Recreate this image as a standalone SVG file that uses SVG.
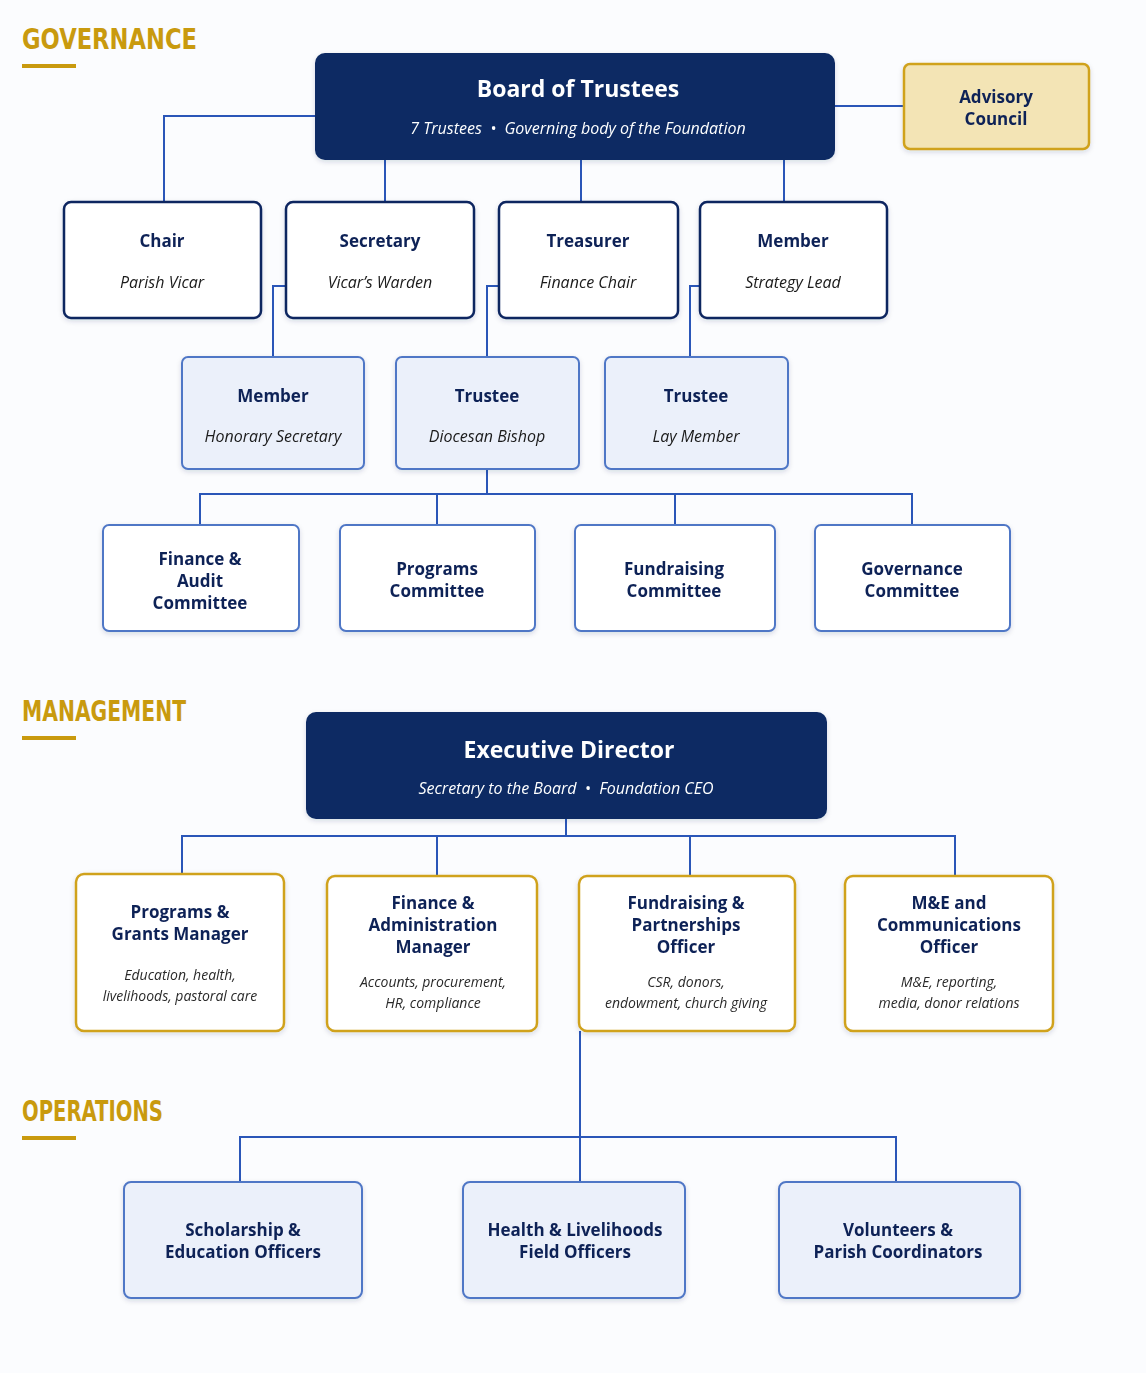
<svg xmlns="http://www.w3.org/2000/svg" width="1146" height="1373" viewBox="0 0 1146 1373">
<defs>
<filter id="sh" x="-10%" y="-10%" width="120%" height="130%">
<feDropShadow dx="0" dy="2" stdDeviation="2.5" flood-color="#1a2a55" flood-opacity="0.15"/>
</filter>
<style>
.sec{font-family:"DejaVu Sans Condensed","DejaVu Sans",sans-serif;font-stretch:condensed;font-weight:bold;font-size:28px;fill:#C99A0E}
.bar{fill:#C99A0E}
.dark{fill:#0B2A63}
.hT{font-family:"Open Sans","Noto Sans",sans-serif;font-weight:bold;font-size:23px;fill:#fff;text-anchor:middle}
.hS{font-family:"Open Sans","Noto Sans",sans-serif;font-style:italic;font-size:16px;fill:#fff;text-anchor:middle;white-space:pre}
.l2{fill:#fff;stroke:#0E2560;stroke-width:2.5}
.l3{fill:#EBF0FA;stroke:#5077C6;stroke-width:2}
.cm{fill:#fff;stroke:#5077C6;stroke-width:2}
.mg{fill:#fff;stroke:#D0A21F;stroke-width:2.5}
.adv{fill:#F3E4B5;stroke:#D0A21F;stroke-width:2.5}
.t{font-family:"Open Sans","Noto Sans",sans-serif;font-weight:bold;font-size:17px;fill:#0F2257;text-anchor:middle}
.s{font-family:"Open Sans","Noto Sans",sans-serif;font-style:italic;font-size:16px;fill:#1a1a1a;text-anchor:middle}
.ss{font-family:"Open Sans","Noto Sans",sans-serif;font-style:italic;font-size:14px;fill:#2a2a2a;text-anchor:middle}
.c{fill:none;stroke:#2A56B8;stroke-width:2}
</style>
</defs>
<rect width="1146" height="1373" fill="#FBFCFE"/>

<g id="sections">
<text class="sec" x="22" y="49" textLength="175" lengthAdjust="spacingAndGlyphs">GOVERNANCE</text>
<rect class="bar" x="22" y="64" width="54" height="4"/>
<text class="sec" x="22" y="721" textLength="164" lengthAdjust="spacingAndGlyphs">MANAGEMENT</text>
<rect class="bar" x="22" y="736" width="54" height="4"/>
<text class="sec" x="22" y="1121" textLength="141" lengthAdjust="spacingAndGlyphs">OPERATIONS</text>
<rect class="bar" x="22" y="1136" width="54" height="4"/>
</g>

<g id="connectors">
<path class="c" d="M315,116 H164 V202"/>
<path class="c" d="M385,160 V202"/>
<path class="c" d="M581,160 V202"/>
<path class="c" d="M784,160 V202"/>
<path class="c" d="M835,106 H904"/>
<path class="c" d="M286,286 H273 V357"/>
<path class="c" d="M499,286 H487 V357"/>
<path class="c" d="M700,286 H690 V357"/>
<path class="c" d="M487,469 V494 M200,525 V494 H912 V525 M437,494 V525 M675,494 V525"/>
<path class="c" d="M566,819 V836 M182,874 V836 H955 V876 M437,836 V876 M690,836 V876"/>
<path class="c" d="M580,1031 V1182 M240,1182 V1137 H896 V1182"/>
</g>

<g id="board" filter="url(#sh)">
<rect class="dark" x="315" y="53" width="520" height="107" rx="10"/>
<text class="hT" x="578" y="97">Board of Trustees</text>
<text class="hS" x="578" y="134">7 Trustees  •  Governing body of the Foundation</text>
</g>
<g id="advisory" filter="url(#sh)">
<rect class="adv" x="904" y="64" width="185" height="85" rx="6"/>
<text class="t" x="996" y="103">Advisory</text>
<text class="t" x="996" y="125">Council</text>
</g>

<g id="chair" filter="url(#sh)">
<rect class="l2" x="64" y="202" width="197" height="116" rx="7"/>
<text class="t" x="162" y="247">Chair</text>
<text class="s" x="162" y="288">Parish Vicar</text>
</g>
<g id="secretary" filter="url(#sh)">
<rect class="l2" x="286" y="202" width="188" height="116" rx="7"/>
<text class="t" x="380" y="247">Secretary</text>
<text class="s" x="380" y="288">Vicar’s Warden</text>
</g>
<g id="treasurer" filter="url(#sh)">
<rect class="l2" x="499" y="202" width="179" height="116" rx="7"/>
<text class="t" x="588" y="247">Treasurer</text>
<text class="s" x="588" y="288">Finance Chair</text>
</g>
<g id="member-strategy" filter="url(#sh)">
<rect class="l2" x="700" y="202" width="187" height="116" rx="7"/>
<text class="t" x="793" y="247">Member</text>
<text class="s" x="793" y="288">Strategy Lead</text>
</g>

<g id="member-honorary" filter="url(#sh)">
<rect class="l3" x="182" y="357" width="182" height="112" rx="6"/>
<text class="t" x="273" y="402">Member</text>
<text class="s" x="273" y="442">Honorary Secretary</text>
</g>
<g id="trustee-bishop" filter="url(#sh)">
<rect class="l3" x="396" y="357" width="183" height="112" rx="6"/>
<text class="t" x="487" y="402">Trustee</text>
<text class="s" x="487" y="442">Diocesan Bishop</text>
</g>
<g id="trustee-lay" filter="url(#sh)">
<rect class="l3" x="605" y="357" width="183" height="112" rx="6"/>
<text class="t" x="696" y="402">Trustee</text>
<text class="s" x="696" y="442">Lay Member</text>
</g>

<g id="finance-audit" filter="url(#sh)">
<rect class="cm" x="103" y="525" width="196" height="106" rx="6"/>
<text class="t" x="200" y="565">Finance &amp;</text>
<text class="t" x="200" y="587">Audit</text>
<text class="t" x="200" y="609">Committee</text>
</g>
<g id="programs-committee" filter="url(#sh)">
<rect class="cm" x="340" y="525" width="195" height="106" rx="6"/>
<text class="t" x="437" y="575">Programs</text>
<text class="t" x="437" y="597">Committee</text>
</g>
<g id="fundraising-committee" filter="url(#sh)">
<rect class="cm" x="575" y="525" width="200" height="106" rx="6"/>
<text class="t" x="674" y="575">Fundraising</text>
<text class="t" x="674" y="597">Committee</text>
</g>
<g id="governance-committee" filter="url(#sh)">
<rect class="cm" x="815" y="525" width="195" height="106" rx="6"/>
<text class="t" x="912" y="575">Governance</text>
<text class="t" x="912" y="597">Committee</text>
</g>

<g id="executive-director" filter="url(#sh)">
<rect class="dark" x="306" y="712" width="521" height="107" rx="10"/>
<text class="hT" x="569" y="758">Executive Director</text>
<text class="hS" x="566" y="794">Secretary to the Board  •  Foundation CEO</text>
</g>

<g id="programs-grants" filter="url(#sh)">
<rect class="mg" x="76" y="874" width="208" height="157" rx="8"/>
<text class="t" x="180" y="918">Programs &amp;</text>
<text class="t" x="180" y="940">Grants Manager</text>
<text class="ss" x="180" y="980">Education, health,</text>
<text class="ss" x="180" y="1001">livelihoods, pastoral care</text>
</g>
<g id="finance-admin" filter="url(#sh)">
<rect class="mg" x="327" y="876" width="210" height="155" rx="8"/>
<text class="t" x="433" y="909">Finance &amp;</text>
<text class="t" x="433" y="931">Administration</text>
<text class="t" x="433" y="953">Manager</text>
<text class="ss" x="433" y="987">Accounts, procurement,</text>
<text class="ss" x="433" y="1008">HR, compliance</text>
</g>
<g id="fundraising-partnerships" filter="url(#sh)">
<rect class="mg" x="579" y="876" width="216" height="155" rx="8"/>
<text class="t" x="686" y="909">Fundraising &amp;</text>
<text class="t" x="686" y="931">Partnerships</text>
<text class="t" x="686" y="953">Officer</text>
<text class="ss" x="686" y="987">CSR, donors,</text>
<text class="ss" x="686" y="1008">endowment, church giving</text>
</g>
<g id="me-communications" filter="url(#sh)">
<rect class="mg" x="845" y="876" width="208" height="155" rx="8"/>
<text class="t" x="949" y="909">M&amp;E and</text>
<text class="t" x="949" y="931">Communications</text>
<text class="t" x="949" y="953">Officer</text>
<text class="ss" x="949" y="987">M&amp;E, reporting,</text>
<text class="ss" x="949" y="1008">media, donor relations</text>
</g>

<g id="scholarship" filter="url(#sh)">
<rect class="l3" x="124" y="1182" width="238" height="116" rx="7"/>
<text class="t" x="243" y="1236">Scholarship &amp;</text>
<text class="t" x="243" y="1258">Education Officers</text>
</g>
<g id="health-livelihoods" filter="url(#sh)">
<rect class="l3" x="463" y="1182" width="222" height="116" rx="7"/>
<text class="t" x="575" y="1236">Health &amp; Livelihoods</text>
<text class="t" x="575" y="1258">Field Officers</text>
</g>
<g id="volunteers" filter="url(#sh)">
<rect class="l3" x="779" y="1182" width="241" height="116" rx="7"/>
<text class="t" x="898" y="1236">Volunteers &amp;</text>
<text class="t" x="898" y="1258">Parish Coordinators</text>
</g>
</svg>
